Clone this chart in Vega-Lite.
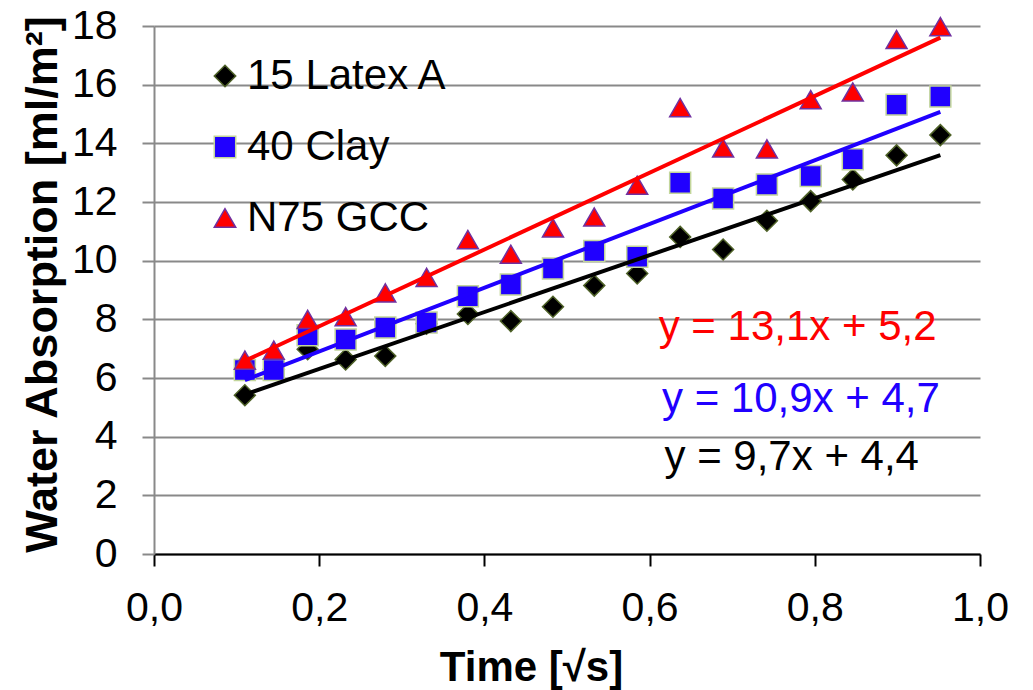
{
  "$schema": "https://vega.github.io/schema/vega-lite/v6.json",
  "width": 826,
  "height": 528,
  "autosize": {"type": "none"},
  "padding": {"left": 154, "top": 26, "right": 53, "bottom": 136},
  "background": "white",
  "config": {"font": "Liberation Sans", "view": {"stroke": null}, "legend": {"symbolSize": 460}},
  "datasets": {
    "points": [
      {"series": "15 Latex A", "t": 0.110, "wa": 5.41},
      {"series": "15 Latex A", "t": 0.145, "wa": 6.30},
      {"series": "15 Latex A", "t": 0.186, "wa": 6.98},
      {"series": "15 Latex A", "t": 0.232, "wa": 6.63},
      {"series": "15 Latex A", "t": 0.280, "wa": 6.75},
      {"series": "15 Latex A", "t": 0.330, "wa": 7.85},
      {"series": "15 Latex A", "t": 0.380, "wa": 8.18},
      {"series": "15 Latex A", "t": 0.432, "wa": 7.94},
      {"series": "15 Latex A", "t": 0.483, "wa": 8.43},
      {"series": "15 Latex A", "t": 0.533, "wa": 9.15},
      {"series": "15 Latex A", "t": 0.585, "wa": 9.56},
      {"series": "15 Latex A", "t": 0.637, "wa": 10.81},
      {"series": "15 Latex A", "t": 0.689, "wa": 10.38},
      {"series": "15 Latex A", "t": 0.742, "wa": 11.36},
      {"series": "15 Latex A", "t": 0.795, "wa": 12.03},
      {"series": "15 Latex A", "t": 0.846, "wa": 12.77},
      {"series": "15 Latex A", "t": 0.899, "wa": 13.59},
      {"series": "15 Latex A", "t": 0.952, "wa": 14.28},
      {"series": "40 Clay", "t": 0.110, "wa": 6.27},
      {"series": "40 Clay", "t": 0.145, "wa": 6.27},
      {"series": "40 Clay", "t": 0.186, "wa": 7.46},
      {"series": "40 Clay", "t": 0.232, "wa": 7.31},
      {"series": "40 Clay", "t": 0.280, "wa": 7.72},
      {"series": "40 Clay", "t": 0.330, "wa": 7.89},
      {"series": "40 Clay", "t": 0.380, "wa": 8.79},
      {"series": "40 Clay", "t": 0.432, "wa": 9.19},
      {"series": "40 Clay", "t": 0.483, "wa": 9.73},
      {"series": "40 Clay", "t": 0.533, "wa": 10.33},
      {"series": "40 Clay", "t": 0.585, "wa": 10.13},
      {"series": "40 Clay", "t": 0.637, "wa": 12.66},
      {"series": "40 Clay", "t": 0.689, "wa": 12.12},
      {"series": "40 Clay", "t": 0.742, "wa": 12.60},
      {"series": "40 Clay", "t": 0.795, "wa": 12.89},
      {"series": "40 Clay", "t": 0.846, "wa": 13.46},
      {"series": "40 Clay", "t": 0.899, "wa": 15.32},
      {"series": "40 Clay", "t": 0.952, "wa": 15.60},
      {"series": "N75 GCC", "t": 0.110, "wa": 6.61},
      {"series": "N75 GCC", "t": 0.145, "wa": 6.95},
      {"series": "N75 GCC", "t": 0.186, "wa": 8.00},
      {"series": "N75 GCC", "t": 0.232, "wa": 8.09},
      {"series": "N75 GCC", "t": 0.280, "wa": 8.90},
      {"series": "N75 GCC", "t": 0.330, "wa": 9.43},
      {"series": "N75 GCC", "t": 0.380, "wa": 10.72},
      {"series": "N75 GCC", "t": 0.432, "wa": 10.22},
      {"series": "N75 GCC", "t": 0.483, "wa": 11.12},
      {"series": "N75 GCC", "t": 0.533, "wa": 11.49},
      {"series": "N75 GCC", "t": 0.585, "wa": 12.57},
      {"series": "N75 GCC", "t": 0.637, "wa": 15.22},
      {"series": "N75 GCC", "t": 0.689, "wa": 13.84},
      {"series": "N75 GCC", "t": 0.742, "wa": 13.81},
      {"series": "N75 GCC", "t": 0.795, "wa": 15.49},
      {"series": "N75 GCC", "t": 0.846, "wa": 15.75},
      {"series": "N75 GCC", "t": 0.899, "wa": 17.54},
      {"series": "N75 GCC", "t": 0.952, "wa": 17.98}
    ],
    "equations": [
      {"series": "N75 GCC", "t": 0.611, "wa": 7.30, "label": "y = 13,1x + 5,2"},
      {"series": "40 Clay", "t": 0.615, "wa": 4.85, "label": "y = 10,9x + 4,7"},
      {"series": "15 Latex A", "t": 0.618, "wa": 2.86, "label": "y = 9,7x + 4,4"}
    ]
  },
  "encoding": {
    "x": {
      "field": "t",
      "type": "quantitative",
      "title": "Time [√s]",
      "scale": {"domain": [0, 1], "nice": false, "zero": false},
      "axis": {
        "values": [0, 0.2, 0.4, 0.6, 0.8, 1.0],
        "labelExpr": "replace(format(datum.value, '.1f'), '.', ',')",
        "grid": false,
        "domainColor": "#000000",
        "domainWidth": 2,
        "tickColor": "#000000",
        "tickWidth": 2,
        "tickSize": 12,
        "labelFontSize": 41,
        "labelColor": "#000000",
        "labelPadding": 22,
        "labelFlush": false,
        "labelOverlap": false,
        "titleFontSize": 42,
        "titleFontWeight": "bold",
        "titleColor": "#000000",
        "titleX": 377,
        "titleY": 126,
        "titleBaseline": "alphabetic"
      }
    },
    "y": {
      "field": "wa",
      "type": "quantitative",
      "title": "Water Absorption [ml/m²]",
      "scale": {"domain": [0, 18], "nice": false},
      "axis": {
        "values": [0, 2, 4, 6, 8, 10, 12, 14, 16, 18],
        "grid": true,
        "gridColor": "#898989",
        "gridWidth": 2,
        "domainColor": "#898989",
        "domainWidth": 2,
        "tickColor": "#898989",
        "tickWidth": 2,
        "tickSize": 12,
        "labelFontSize": 41,
        "labelColor": "#000000",
        "labelPadding": 25,
        "labelFlush": false,
        "labelOverlap": false,
        "titleFontSize": 45,
        "titleFontWeight": "bold",
        "titleColor": "#000000",
        "titlePadding": 6,
        "titleY": 258
      }
    }
  },
  "layer": [
    {
      "data": {"name": "points"},
      "mark": {"type": "point", "filled": true, "size": 440, "strokeWidth": 1.5, "opacity": 1},
      "encoding": {
        "fill": {
          "field": "series",
          "type": "nominal",
          "scale": {"domain": ["15 Latex A", "40 Clay", "N75 GCC"], "range": ["#000000", "#2000FF", "#FF0000"]},
          "legend": {
            "orient": "none",
            "legendX": 50,
            "legendY": 29,
            "title": null,
            "padding": 0,
            "labelFontSize": 42,
            "labelLimit": 0,
            "labelColor": "#000000",
            "labelFont": "Liberation Sans",
            "rowPadding": 29,
            "symbolSize": 460,
            "symbolStrokeWidth": 1.5,
            "labelOffset": 1,
            "encode": {"symbols": {"update": {"size": {"value": 460}}}}
          }
        },
        "stroke": {
          "field": "series",
          "type": "nominal",
          "scale": {"domain": ["15 Latex A", "40 Clay", "N75 GCC"], "range": ["#4F6228", "#C3D69B", "#7030A0"]},
          "legend": {
            "orient": "none",
            "legendX": 50,
            "legendY": 29,
            "title": null,
            "padding": 0,
            "labelFontSize": 42,
            "labelLimit": 0,
            "labelColor": "#000000",
            "labelFont": "Liberation Sans",
            "rowPadding": 29,
            "symbolSize": 460,
            "symbolStrokeWidth": 1.5,
            "labelOffset": 1,
            "encode": {"symbols": {"update": {"size": {"value": 460}}}}
          }
        },
        "shape": {
          "field": "series",
          "type": "nominal",
          "scale": {"domain": ["15 Latex A", "40 Clay", "N75 GCC"], "range": ["diamond", "square", "triangle-up"]},
          "legend": {
            "orient": "none",
            "legendX": 50,
            "legendY": 29,
            "title": null,
            "padding": 0,
            "labelFontSize": 42,
            "labelLimit": 0,
            "labelColor": "#000000",
            "labelFont": "Liberation Sans",
            "rowPadding": 29,
            "symbolSize": 460,
            "symbolStrokeWidth": 1.5,
            "labelOffset": 1,
            "encode": {"symbols": {"update": {"size": {"value": 460}}}}
          }
        }
      }
    },
    {
      "data": {"name": "points"},
      "transform": [{"regression": "wa", "on": "t", "groupby": ["series"]}],
      "mark": {"type": "line", "strokeWidth": 4},
      "encoding": {
        "color": {
          "field": "series",
          "type": "nominal",
          "scale": {"domain": ["15 Latex A", "40 Clay", "N75 GCC"], "range": ["#000000", "#2000FF", "#FF0000"]},
          "legend": null
        }
      }
    },
    {
      "data": {"name": "equations"},
      "mark": {"type": "text", "align": "left", "baseline": "alphabetic", "fontSize": 42, "font": "Liberation Sans"},
      "encoding": {
        "text": {"field": "label", "type": "nominal"},
        "color": {
          "field": "series",
          "type": "nominal",
          "scale": {"domain": ["15 Latex A", "40 Clay", "N75 GCC"], "range": ["#000000", "#2000FF", "#FF0000"]},
          "legend": null
        }
      }
    }
  ]
}
